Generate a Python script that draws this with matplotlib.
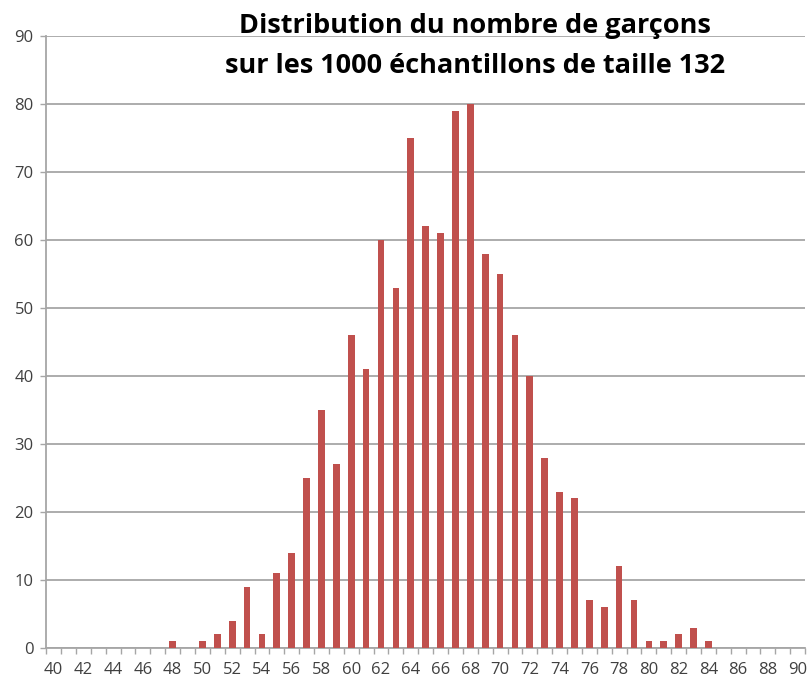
import numpy as np
import matplotlib.pyplot as plt
from matplotlib.ticker import FixedLocator, NullFormatter

# nombre de garcons par echantillon (40..90) et effectifs
valeurs = list(range(40, 91))
effectifs = [0, 0, 0, 0, 0, 0, 0, 0, 1, 0,
             1, 2, 4, 9, 2, 11, 14, 25, 35, 27,
             46, 41, 60, 53, 75, 62, 61, 79, 80, 58,
             55, 46, 40, 28, 23, 22, 7, 6, 12, 7,
             1, 1, 2, 3, 1, 0, 0, 0, 0, 0, 0]
y_ticks = list(range(0, 91, 10))
x_labels = list(range(40, 91, 2))

plt.rcParams['font.family'] = ['Open Sans', 'DejaVu Sans']

fig = plt.figure(figsize=(8.1, 6.8), dpi=100)
ax = fig.add_axes([0.057, 0.047, 0.937, 0.9])

ax.bar(valeurs, effectifs, width=0.45, color='#C0504D', zorder=3)

ax.set_xlim(39.5, 90.5)
ax.set_ylim(0, 90)
ax.set_yticks(y_ticks)
ax.yaxis.grid(True, color='#A6A6A6', linewidth=1.3, zorder=0)

# ticks entre les categories, etiquettes au centre
ax.xaxis.set_major_locator(FixedLocator(np.arange(39.5, 91, 1)))
ax.xaxis.set_major_formatter(NullFormatter())
ax.xaxis.set_minor_locator(FixedLocator(x_labels))
ax.set_xticklabels([str(v) for v in x_labels], minor=True, fontsize=12)
ax.set_yticklabels([str(v) for v in y_ticks], fontsize=12)
ax.tick_params(axis='x', which='major', length=4, color='#A6A6A6', width=1)
ax.tick_params(axis='x', which='minor', length=0, pad=10, labelcolor='#404040')
ax.tick_params(axis='y', length=4, color='#A6A6A6', width=1, pad=5, labelcolor='#404040')

for s in ['top', 'right']:
    ax.spines[s].set_visible(False)
for s in ['left', 'bottom']:
    ax.spines[s].set_color('#A6A6A6')
    ax.spines[s].set_linewidth(1.3)

fig.text(0.586, 0.981, "Distribution du nombre de garçons\nsur les 1000 échantillons de taille 132",
         ha='center', va='top', fontsize=19.5, fontweight='bold', linespacing=1.7)

fig.savefig('out.png', dpi=100)
